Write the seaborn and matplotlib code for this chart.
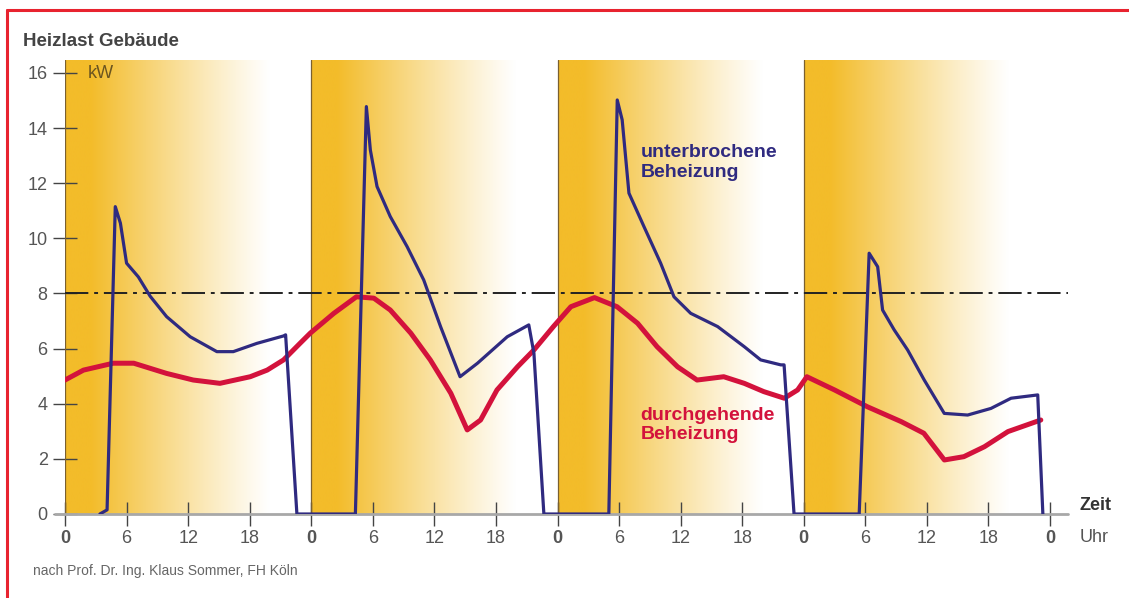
import numpy as np
import matplotlib.pyplot as plt
import seaborn as sns
from matplotlib.colors import LinearSegmentedColormap
from matplotlib.lines import Line2D

# Zeit in Stunden, fortlaufend über vier Tage (0 .. 96 h)
hours_blue = [3.4, 4.1, 4.9, 5.4, 6.0, 7.15, 8.3, 9.9, 12.2, 14.8, 16.4, 18.7, 21.3, 21.5, 22.6,
              28.3, 29.37, 29.76, 30.41, 31.7, 33.34, 34.96, 36.6, 38.5, 40.2, 43.1, 45.2, 45.7, 46.67,
              53.0, 53.82, 54.3, 54.96, 56.42, 58.05, 59.35, 60.98, 63.6, 66.2, 67.8, 69.76, 70.08, 71.05,
              77.4, 78.37, 79.2, 79.68, 80.81, 82.12, 83.74, 85.69, 87.97, 90.24, 92.2, 94.8, 95.3]
kw_blue = [0.0, 0.15, 11.15, 10.55, 9.1, 8.6, 7.9, 7.16, 6.43, 5.89, 5.89, 6.19, 6.46, 6.5, 0.0,
           0.0, 14.78, 13.2, 11.88, 10.79, 9.7, 8.49, 6.8, 4.98, 5.47, 6.43, 6.86, 5.83, 0.0,
           0.0, 15.02, 14.3, 11.64, 10.43, 9.1, 7.88, 7.28, 6.8, 6.07, 5.59, 5.41, 5.41, 0.0,
           0.0, 9.46, 8.97, 7.4, 6.68, 5.95, 4.86, 3.65, 3.59, 3.83, 4.2, 4.32, 0.0]

hours_red = [0.0, 1.8, 4.7, 6.7, 9.9, 12.5, 15.1, 18.05, 19.7, 21.3, 22.9, 23.9, 26.2, 28.4, 30.1,
             31.7, 33.7, 35.6, 37.6, 39.2, 40.5, 42.1, 44.1, 45.7, 47.6, 49.3, 51.6, 53.8, 55.8,
             57.7, 59.7, 61.6, 64.2, 66.2, 68.1, 70.1, 71.4, 72.3, 75.0, 78.2, 81.5, 83.7, 85.7,
             87.6, 89.6, 91.9, 95.1]
kw_red = [4.86, 5.22, 5.47, 5.47, 5.1, 4.86, 4.74, 4.98, 5.22, 5.59, 6.19, 6.56, 7.28, 7.88, 7.83,
          7.4, 6.56, 5.59, 4.38, 3.05, 3.41, 4.5, 5.34, 5.95, 6.8, 7.52, 7.85, 7.52, 6.92,
          6.07, 5.34, 4.86, 4.98, 4.74, 4.44, 4.2, 4.5, 4.98, 4.5, 3.89, 3.35, 2.93, 1.96,
          2.08, 2.44, 2.99, 3.41]

tick_hours = [0, 6, 12, 18, 24, 30, 36, 42, 48, 54, 60, 66, 72, 78, 84, 90, 96]
tick_labels = ["0", "6", "12", "18"] * 4 + ["0"]
y_ticks = [0, 2, 4, 6, 8, 10, 12, 14, 16]
day_starts = [0, 24, 48, 72]
limit_kw = 8

BLUE = "#2f2a80"
RED = "#d3123c"
ORANGE = "#f3bc2a"

sns.set_theme(style="white")
plt.rcParams["font.family"] = ["Liberation Sans", "DejaVu Sans"]

W, H = 1129, 598
fig = plt.figure(figsize=(W / 100, H / 100), dpi=100)
ax = fig.add_axes([65 / W, 1 - 514 / H, (1068 - 65) / W, (514 - 60) / H])

x_max = 97.75
y_max = 16.47

# Tagesverlauf als Farbverlauf orange -> weiß
cmap = LinearSegmentedColormap.from_list("day", ["white", ORANGE])
h = np.linspace(0, 24, 481)
fade = np.clip(1 - (h - 2.5) / 17.5, 0, 1) ** 1.1
for d in day_starts:
    ax.imshow(fade[None, :], cmap=cmap, vmin=0, vmax=1, aspect="auto",
              extent=(d, d + 24, 0, y_max), interpolation="bilinear", zorder=0)
    ax.axvline(d, color="#7a6030", lw=0.9, zorder=1)

# x-Achse (grau), etwas nach links überstehend
ax.plot([-1.0, x_max], [0, 0], color="#a8a8a8", lw=2, clip_on=False, zorder=1)

ax.axhline(limit_kw, color="#222222", lw=1.4, linestyle=(0, (12, 3, 2, 3)), zorder=2)

sns.lineplot(x=hours_red, y=kw_red, estimator=None, sort=False, color=RED, lw=3.6,
             solid_joinstyle="round", solid_capstyle="round", ax=ax, zorder=3)
sns.lineplot(x=hours_blue, y=kw_blue, estimator=None, sort=False, color=BLUE, lw=2.3,
             solid_joinstyle="round", solid_capstyle="round", ax=ax, zorder=4)

ax.set_xlim(0, x_max)
ax.set_ylim(0, y_max)
for s in ax.spines.values():
    s.set_visible(False)

ax.set_xticks(tick_hours, tick_labels)
ax.set_yticks(y_ticks)
ax.tick_params(axis="both", direction="inout", length=17, width=1, color="#444444",
               labelsize=13, labelcolor="#555555")
ax.tick_params(axis="x", pad=3)
ax.tick_params(axis="y", pad=4)
ax.tick_params(bottom=True, left=True)
for lab in ax.get_xticklabels():
    if lab.get_text() == "0":
        lab.set_fontweight("bold")
ax.set_xlabel("")
ax.set_ylabel("")

ax.text(56.1, 12.75, "unterbrochene\nBeheizung", color=BLUE, fontsize=14,
        fontweight="bold", ha="left", va="center", linespacing=1.2, zorder=5)
ax.text(56.1, 3.23, "durchgehende\nBeheizung", color=RED, fontsize=14,
        fontweight="bold", ha="left", va="center", linespacing=1.2, zorder=5)

fig.text(23 / W, 1 - 42 / H, "Heizlast Gebäude", fontsize=13.5, fontweight="bold",
         color="#444444", ha="left", va="center")
fig.text(88 / W, 1 - 73 / H, "kW", fontsize=13, color="#6b5520", ha="left", va="center")
fig.text(1080 / W, 1 - 505 / H, "Zeit", fontsize=13, fontweight="bold",
         color="#333333", ha="left", va="center")
fig.text(1080 / W, 1 - 537 / H, "Uhr", fontsize=13, color="#555555", ha="left", va="center")
fig.text(33 / W, 1 - 571 / H, "nach Prof. Dr. Ing. Klaus Sommer, FH Köln", fontsize=10,
         color="#666666", ha="left", va="center")

# roter Rahmen oben und links
fig.add_artist(Line2D([7 / W, 1], [1 - 10 / H, 1 - 10 / H], transform=fig.transFigure,
                      color="#e8232f", lw=2.2))
fig.add_artist(Line2D([7 / W, 7 / W], [0, 1 - 10 / H], transform=fig.transFigure,
                      color="#e8232f", lw=2.2))

fig.savefig("out.png", dpi=100)
